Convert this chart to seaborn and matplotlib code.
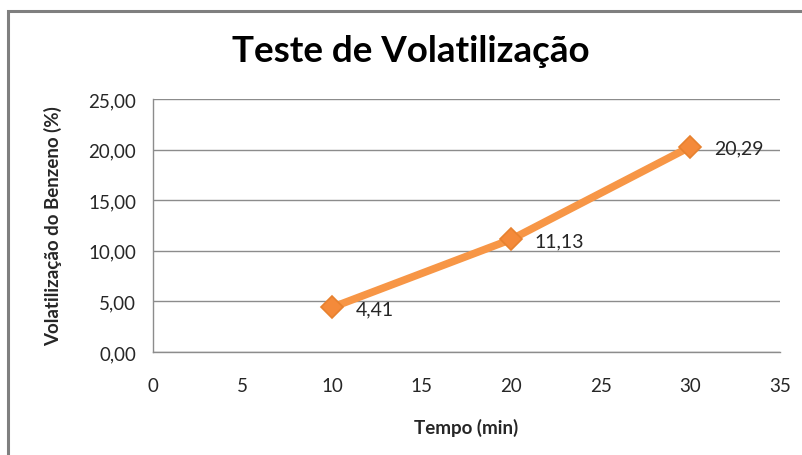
import matplotlib
matplotlib.use('Agg')
import matplotlib.pyplot as plt
import matplotlib.patches as mpatches
import matplotlib.ticker as mticker
import pandas as pd
import seaborn as sns

# values
tempo = [10, 20, 30]
volatilizacao = [4.41, 11.13, 20.29]
rotulos = ['4,41', '11,13', '20,29']
x_ticks = [0, 5, 10, 15, 20, 25, 30, 35]
y_ticks = [0, 5, 10, 15, 20, 25]

df = pd.DataFrame({'Tempo': tempo, 'Volatilizacao': volatilizacao})

sns.set_theme(style='white')
plt.rcParams['font.family'] = ['Lato', 'DejaVu Sans']

fig = plt.figure(figsize=(8.02, 4.56), dpi=100)
ax = fig.add_axes([153 / 802, 1 - 353 / 456, (780 - 153) / 802, (353 - 100) / 456])

# outer chart frame (cut by the image edges on right and bottom)
fig.patches.append(mpatches.Rectangle((8 / 802, -0.2), 1.2, 1 - 12 / 456 + 0.2,
                                      transform=fig.transFigure, fill=False,
                                      edgecolor='#7f7f7f', linewidth=2.2, zorder=0))

orange = '#F79646'
sns.lineplot(data=df, x='Tempo', y='Volatilizacao', ax=ax, color=orange,
             linewidth=5.5, marker='D', markersize=11.5, markeredgecolor='#E7812F',
             markeredgewidth=1.2, markerfacecolor='#F48A3A', zorder=3)

for xv, yv, txt in zip(tempo, volatilizacao, rotulos):
    ax.annotate(txt, (xv, yv), xytext=(17, -1), textcoords='offset points',
                ha='left', va='center', fontsize=14, color='#262626')

ax.set_xlim(0, 35)
ax.set_ylim(0, 25)
ax.set_xticks(x_ticks)
ax.set_yticks(y_ticks)
ax.yaxis.set_major_formatter(mticker.FuncFormatter(lambda v, p: f'{v:.2f}'.replace('.', ',')))

ax.grid(axis='y', color='#8c8c8c', linewidth=1)
ax.grid(axis='x', visible=False)
for side in ['top', 'right']:
    ax.spines[side].set_visible(False)
for side in ['left', 'bottom']:
    ax.spines[side].set_color('#8c8c8c')
    ax.spines[side].set_linewidth(1)

ax.tick_params(axis='both', which='major', direction='out', length=5, width=1,
               color='#8c8c8c', labelsize=13.5, labelcolor='#262626')
ax.tick_params(axis='y', pad=7)
ax.tick_params(axis='x', pad=13)

ax.set_xlabel('Tempo (min)', fontsize=13.5, fontweight='bold', labelpad=17)
ax.set_ylabel('Volatilização do Benzeno (%)', fontsize=13.5, fontweight='bold', labelpad=19)

fig.text(411 / 802, 1 - 52 / 456, 'Teste de Volatilização', ha='center', va='center',
         fontsize=26.5, fontweight='bold', color='black')

fig.savefig('out.png', dpi=100)
